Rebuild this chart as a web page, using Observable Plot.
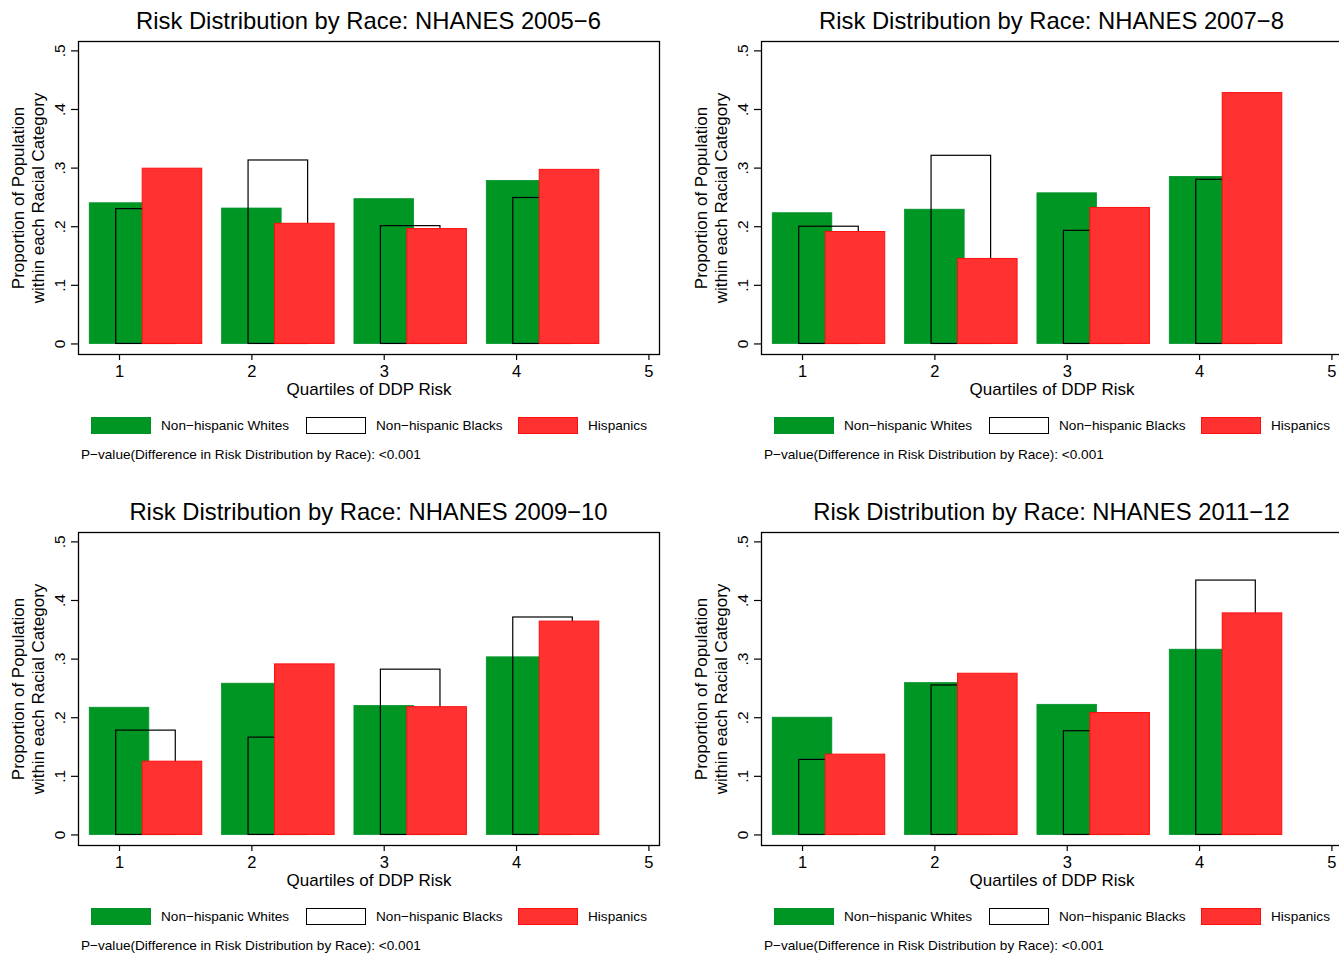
<!DOCTYPE html>
<html>
<head>
<meta charset="utf-8">
<script src="https://cdn.jsdelivr.net/npm/d3@7"></script>
<script src="https://cdn.jsdelivr.net/npm/@observablehq/plot@0.6"></script>
<style>
  html, body { margin: 0; padding: 0; background: #fff; }
  body { width: 1339px; height: 955px; position: relative; overflow: hidden; font-family: "Liberation Sans", Arial, Helvetica, sans-serif; }
  .panel { position: absolute; width: 683px; height: 491px; }
  .title { position: absolute; top: 7px; left: 78px; width: 581px; text-align: center; font-size: 23.8px; line-height: 28px; color: #000; white-space: nowrap; }
  .plot { position: absolute; left: 0; top: 0; }
  .legend { position: absolute; top: 417px; left: 0; width: 683px; height: 18px; font-size: 13.6px; }
  .sw { position: absolute; top: 0; width: 60px; height: 17px; box-sizing: border-box; }
  .lt { position: absolute; top: 0; line-height: 17px; white-space: nowrap; }
  .caption { position: absolute; top: 447px; left: 81px; font-size: 13.6px; white-space: nowrap; }
</style>
</head>
<body>
<script>
// ---- data ----
const quartiles = [1, 2, 3, 4];
const xTicks = [1, 2, 3, 4, 5];
const yTicks = [0, 0.1, 0.2, 0.3, 0.4, 0.5];
const seriesNames = ["Non\u2212hispanic Whites", "Non\u2212hispanic Blacks", "Hispanics"];
const panelTitles = [
  "Risk Distribution by Race: NHANES 2005\u22126",
  "Risk Distribution by Race: NHANES 2007\u22128",
  "Risk Distribution by Race: NHANES 2009\u221210",
  "Risk Distribution by Race: NHANES 2011\u221212"
];
const whites2005 = [0.240, 0.231, 0.247, 0.278];
const blacks2005 = [0.230, 0.313, 0.201, 0.249];
const hisp2005   = [0.299, 0.205, 0.196, 0.297];
const whites2007 = [0.223, 0.229, 0.257, 0.285];
const blacks2007 = [0.200, 0.321, 0.193, 0.280];
const hisp2007   = [0.191, 0.145, 0.232, 0.428];
const whites2009 = [0.217, 0.258, 0.220, 0.303];
const blacks2009 = [0.178, 0.166, 0.282, 0.371];
const hisp2009   = [0.125, 0.291, 0.218, 0.364];
const whites2011 = [0.200, 0.259, 0.222, 0.316];
const blacks2011 = [0.128, 0.255, 0.177, 0.434];
const hisp2011   = [0.137, 0.275, 0.208, 0.378];
const yLabel = "Proportion of Population\nwithin each Racial Category";
const xLabel = "Quartiles of DDP Risk";
const caption = "P\u2212value(Difference in Risk Distribution by Race): <0.001";

// ---- styles ----
const GREEN = "#009624", GREEN_STROKE = "#00922a";
const RED = "#ff3131", RED_STROKE = "#ff1010";
const BAR_W = 0.45;
const OFFSETS = [0, 0.2, 0.4];

const panels = [
  {title: panelTitles[0], w: whites2005, b: blacks2005, h: hisp2005, left: 0, top: 0},
  {title: panelTitles[1], w: whites2007, b: blacks2007, h: hisp2007, left: 683, top: 0},
  {title: panelTitles[2], w: whites2009, b: blacks2009, h: hisp2009, left: 0, top: 491},
  {title: panelTitles[3], w: whites2011, b: blacks2011, h: hisp2011, left: 683, top: 491}
];

function rows(vals) { return quartiles.map((q, i) => ({q, v: vals[i]})); }

for (const p of panels) {
  const div = document.createElement("div");
  div.className = "panel";
  div.style.left = p.left + "px";
  div.style.top = p.top + "px";
  document.body.appendChild(div);

  const t = document.createElement("div");
  t.className = "title";
  t.textContent = p.title;
  div.appendChild(t);

  const bar = (vals, k, opts) => Plot.rect(rows(vals), {
    x1: d => d.q + OFFSETS[k] - BAR_W / 2,
    x2: d => d.q + OFFSETS[k] + BAR_W / 2,
    y1: 0, y2: "v", ...opts
  });

  const chart = Plot.plot({
    width: 683, height: 400,
    marginLeft: 78, marginRight: 24, marginTop: 41, marginBottom: 46,
    style: {fontFamily: "Liberation Sans, Arial, Helvetica, sans-serif", fontSize: "16px", color: "#000", background: "transparent"},
    x: {type: "linear", domain: [0.69, 5.08]},
    y: {type: "linear", domain: [-0.018, 0.516]},
    marks: [
      bar(p.w, 0, {fill: GREEN, stroke: GREEN_STROKE, strokeWidth: 0.8}),
      bar(p.b, 1, {fill: "none", stroke: "#000", strokeWidth: 1.2}),
      bar(p.h, 2, {fill: RED, stroke: RED_STROKE, strokeWidth: 1}),
      Plot.frame({stroke: "#000", strokeWidth: 1.3}),
      Plot.axisX({ticks: xTicks, tickSize: 6, tickFormat: () => "", label: null, stroke: "#000", strokeWidth: 1.2}),
      Plot.text(xTicks, {frameAnchor: "bottom", x: d => d, text: d => String(d), dy: 17, textAnchor: "middle", lineAnchor: "middle", fontSize: 16.5, fill: "#000"}),
      Plot.axisY({ticks: yTicks, tickSize: 7, tickFormat: () => "", label: null, stroke: "#000", strokeWidth: 1.2}),
      Plot.text(yTicks, {frameAnchor: "left", y: d => d, text: d => d === 0 ? "0" : String(d).replace(/^0/, ""), rotate: -90, dx: -18, textAnchor: "middle", lineAnchor: "middle", fontSize: 15.5, fill: "#000"}),
      Plot.text([yLabel], {frameAnchor: "left", text: d => d, rotate: -90, dx: -51, textAnchor: "middle", lineAnchor: "middle", lineHeight: 1.15, fontSize: 17, fill: "#000"}),
      Plot.text([xLabel], {frameAnchor: "bottom", text: d => d, dy: 35, textAnchor: "middle", lineAnchor: "middle", fontSize: 17, fill: "#000"})
    ]
  });
  chart.classList.add("plot");
  chart.style.position = "absolute";
  chart.style.left = "0px";
  chart.style.top = "0px";
  div.appendChild(chart);

  const leg = document.createElement("div");
  leg.className = "legend";
  const swatches = [
    {x: 91, tx: 161, bg: GREEN, border: GREEN_STROKE},
    {x: 306, tx: 376, bg: "#fff", border: "#000"},
    {x: 518, tx: 588, bg: RED, border: RED_STROKE}
  ];
  swatches.forEach((s, i) => {
    const sw = document.createElement("div");
    sw.className = "sw";
    sw.style.left = s.x + "px";
    sw.style.background = s.bg;
    sw.style.border = "1px solid " + s.border;
    leg.appendChild(sw);
    const lt = document.createElement("div");
    lt.className = "lt";
    lt.style.left = s.tx + "px";
    lt.textContent = seriesNames[i];
    leg.appendChild(lt);
  });
  div.appendChild(leg);

  const cap = document.createElement("div");
  cap.className = "caption";
  cap.textContent = caption;
  div.appendChild(cap);
}
</script>
</body>
</html>
